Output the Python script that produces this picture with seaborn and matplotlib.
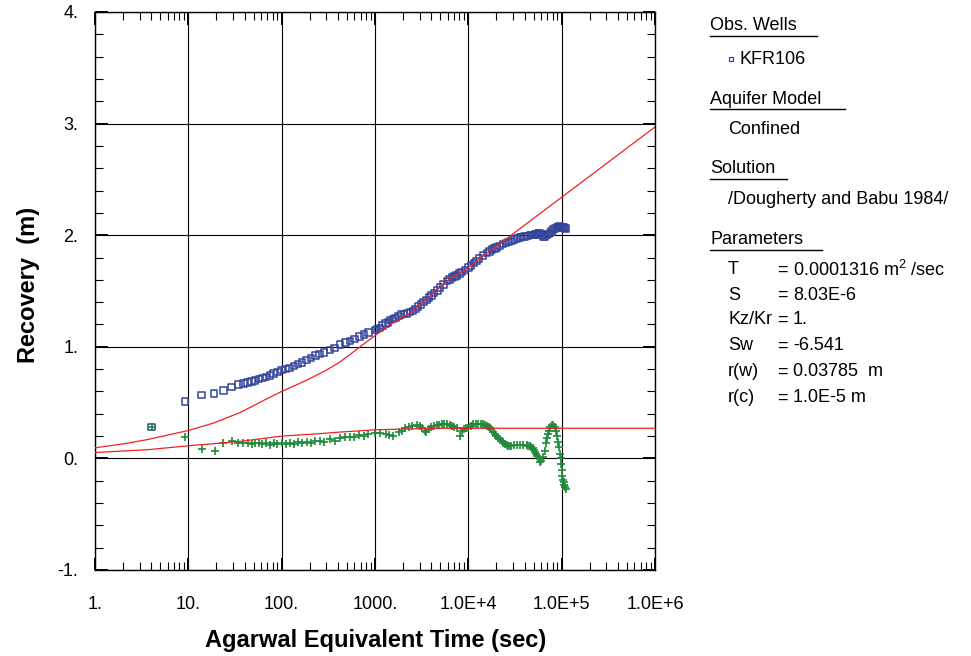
import numpy as np
import pandas as pd
import matplotlib
matplotlib.use("Agg")
import matplotlib.pyplot as plt
import seaborn as sns
from matplotlib.lines import Line2D
from matplotlib.ticker import FixedLocator, MultipleLocator, LogLocator, NullFormatter

# ---------------- data ----------------
obs_time = [4.05, 9.2, 13.9, 18.8, 23.7, 29.1, 34.3, 38.8, 43.3, 47.7,
            52, 57, 62, 68, 75, 82, 90, 100, 110, 122, 135, 150, 165, 185,
            205, 230, 255, 285, 330, 370, 420, 480, 540, 600, 680, 760, 850,
            1000, 1050, 1130, 1200, 1300, 1380, 1450, 1550, 1650, 1780, 1900,
            2050, 2200, 2380, 2560, 2720, 2900, 3100, 3300, 3550, 3800, 4050,
            4300, 4650, 5000, 5400, 5900, 6300, 6700, 7100, 7500, 8000, 8500,
            9200, 10000, 10700, 11500, 12200, 13000, 14300, 15800, 16800,
            18000, 19000, 20000, 21700, 23600, 25200, 27000, 29000, 31000,
            33300, 35600, 37800, 40000, 42800, 45800, 48000, 50000, 52000,
            54000, 56000, 58000, 60500, 63000, 66000, 69000, 72000, 75000,
            78000, 81000, 85000, 89000, 92000, 95000, 97500, 100000, 102500,
            105000, 107500, 110000]
obs_recovery = [0.28, 0.51, 0.57, 0.58, 0.61, 0.64, 0.66, 0.67, 0.68, 0.69,
                0.70, 0.71, 0.72, 0.73, 0.745, 0.76, 0.775, 0.79, 0.80, 0.81,
                0.83, 0.845, 0.86, 0.88, 0.90, 0.92, 0.935, 0.95, 0.97, 0.99,
                1.02, 1.04, 1.05, 1.07, 1.09, 1.11, 1.13,
                1.15, 1.16, 1.17, 1.19, 1.21, 1.22, 1.24, 1.25, 1.26, 1.275,
                1.29, 1.295, 1.30, 1.31, 1.32, 1.34, 1.36, 1.38, 1.40, 1.42,
                1.44, 1.46, 1.48, 1.505, 1.53, 1.56, 1.59, 1.605, 1.62, 1.63,
                1.64, 1.655, 1.67, 1.69, 1.71, 1.73, 1.75, 1.77, 1.79, 1.82,
                1.84, 1.855, 1.87, 1.88, 1.89, 1.905, 1.92, 1.93, 1.94, 1.95,
                1.96, 1.97, 1.98, 1.985, 1.99, 1.995, 2.00, 2.00, 2.00, 2.005,
                2.01, 2.015, 2.02, 2.005, 1.99, 1.99, 2.00, 2.01, 2.02, 2.035,
                2.05, 2.06, 2.07, 2.075, 2.08, 2.075, 2.07, 2.07, 2.07, 2.065,
                2.06]

deriv_time = [4.05, 9.2, 14.1, 19.3, 23.7, 29.1, 34.3, 38.8, 43.3, 47.7, 52,
              57, 62, 68, 75, 82, 90, 100, 110, 122, 135, 150, 165, 185, 205,
              230, 255, 285, 330, 370, 420, 480, 540, 600, 680, 760, 850, 1000,
              1130, 1300, 1400, 1560, 1800, 1950, 2100, 2300, 2500, 2800, 3000,
              3200, 3400, 3550, 3800, 4000, 4300, 4600, 4900, 5200, 5500, 5900,
              6300, 6700, 7100, 7500, 8200, 8600, 9000, 9500, 10000, 10600,
              11300, 12000, 12800, 13700, 14500, 15200, 16000, 16500, 17000,
              17700, 18500, 19200, 20000, 20900, 21800, 22700, 23700, 24700,
              25700, 26700, 27800, 29000, 31000, 33500, 36000, 39000, 42000,
              44000, 46000, 47500, 49000, 50500, 52000, 53500, 55000, 56500,
              58000, 60500, 63000, 65500, 68000, 70000, 72000, 73500, 75000,
              78000, 81000, 84500, 88000, 90000, 92000, 94000, 96000, 97500,
              99000, 100500, 102000, 103500, 105000, 106500, 108000, 110000]
deriv_value = [0.277, 0.196, 0.086, 0.068, 0.137, 0.16, 0.137, 0.137, 0.137,
               0.13, 0.135, 0.14, 0.13, 0.14, 0.12, 0.135, 0.13, 0.137, 0.125,
               0.14, 0.13, 0.145, 0.14, 0.15, 0.14, 0.155, 0.16, 0.15, 0.17,
               0.16, 0.18, 0.19, 0.196, 0.19, 0.21, 0.20, 0.22, 0.227, 0.23,
               0.22, 0.21, 0.20, 0.24, 0.25, 0.27, 0.28, 0.29, 0.30, 0.29,
               0.27, 0.25, 0.24, 0.26, 0.28, 0.29, 0.30, 0.30, 0.31, 0.31,
               0.31, 0.30, 0.29, 0.28, 0.27, 0.20, 0.25, 0.26, 0.27, 0.27,
               0.29, 0.31, 0.31, 0.31, 0.31, 0.31, 0.30, 0.29, 0.28, 0.27,
               0.26, 0.24, 0.22, 0.20, 0.18, 0.17, 0.155, 0.14, 0.13, 0.12,
               0.115, 0.11, 0.115, 0.12, 0.12, 0.12, 0.12, 0.12, 0.115, 0.11,
               0.10, 0.09, 0.075, 0.06, 0.04, 0.02, 0.0, -0.03, -0.02, 0.01,
               0.07, 0.14, 0.18, 0.22, 0.25, 0.28, 0.30, 0.30, 0.28, 0.25,
               0.20, 0.15, 0.10, 0.04, 0.0, -0.05, -0.10, -0.16, -0.19, -0.21,
               -0.24, -0.26, -0.27]

model_time = [1, 2, 3.57, 10, 18.5, 35.7, 66, 100, 185, 300, 422, 600, 800,
              1000, 1450, 2560, 5900, 10000, 15800, 20000, 45800, 100000,
              1000000]
model_recovery = [0.095, 0.13, 0.167, 0.25, 0.316, 0.41, 0.525, 0.60, 0.70,
                  0.79, 0.865, 0.96, 1.04, 1.10, 1.20, 1.32, 1.59, 1.71, 1.84,
                  1.90, 2.127, 2.34, 2.97]

model_d_time = [1, 3.57, 10, 35.7, 100, 240, 422, 1000, 1450, 5000, 1000000]
model_d_value = [0.053, 0.077, 0.113, 0.152, 0.20, 0.22, 0.236, 0.256, 0.26,
                 0.27, 0.27]

x_ticks = [1, 10, 100, 1000, 1e4, 1e5, 1e6]
x_tick_labels = ["1.", "10.", "100.", "1000.", "1.0E+4", "1.0E+5", "1.0E+6"]
y_ticks = [-1, 0, 1, 2, 3, 4]
y_tick_labels = ["-1.", "0.", "1.", "2.", "3.", "4."]

legend_sections = ["Obs. Wells", "Aquifer Model", "Solution", "Parameters"]
param_names = ["T", "S", "Kz/Kr", "Sw", "r(w)", "r(c)"]
param_values = [r"0.0001316 m$^{2}$ /sec", "8.03E-6", "1.", "-6.541",
                "0.03785  m", "1.0E-5 m"]

# ---------------- styling ----------------
FONT = "Liberation Sans"
plt.rcParams["font.family"] = [FONT, "DejaVu Sans"]
plt.rcParams["mathtext.fontset"] = "custom"
plt.rcParams["mathtext.rm"] = FONT
plt.rcParams["mathtext.it"] = FONT
plt.rcParams["mathtext.bf"] = FONT + ":bold"

BLUE = "#34449c"
GREEN = "#1e8a3a"
RED = "#ee2222"

W, H = 971, 656
fig = plt.figure(figsize=(W / 100, H / 100), dpi=100)
ax = fig.add_axes([95 / W, 1 - 570 / H, (655 - 95) / W, (570 - 12) / H])

obs_df = pd.DataFrame({"t": obs_time, "s": obs_recovery})
der_df = pd.DataFrame({"t": deriv_time, "d": deriv_value})
mod_df = pd.DataFrame({"t": model_time, "s": model_recovery})
modd_df = pd.DataFrame({"t": model_d_time, "d": model_d_value})

ax.set_xscale("log")

sns.lineplot(data=mod_df, x="t", y="s", ax=ax, color=RED, lw=0.9,
             estimator=None, sort=False, zorder=4)
sns.lineplot(data=modd_df, x="t", y="d", ax=ax, color=RED, lw=0.9,
             estimator=None, sort=False, zorder=4)
sns.scatterplot(data=obs_df, x="t", y="s", ax=ax, marker="s", s=22,
                facecolor="none", edgecolor=BLUE, linewidth=1.1, zorder=3)
sns.scatterplot(data=der_df, x="t", y="d", ax=ax, marker="+", s=40,
                color=GREEN, linewidth=1.2, zorder=3)

ax.set_xlim(1, 1e6)
ax.set_ylim(-1, 4)
ax.set_xlabel("")
ax.set_ylabel("")

ax.xaxis.set_major_locator(FixedLocator(x_ticks))
ax.set_xticklabels(x_tick_labels)
ax.xaxis.set_minor_locator(LogLocator(base=10, subs=np.arange(2, 10), numticks=20))
ax.xaxis.set_minor_formatter(NullFormatter())
ax.yaxis.set_major_locator(FixedLocator(y_ticks))
ax.set_yticklabels(y_tick_labels)
ax.yaxis.set_minor_locator(MultipleLocator(0.2))

ax.grid(True, which="major", color="black", lw=0.8)
ax.set_axisbelow(True)
ax.tick_params(which="both", direction="in", top=True, right=True,
               colors="black", labelsize=13)
ax.tick_params(which="major", length=9, width=1.4)
ax.tick_params(which="minor", length=6, width=0.8)
ax.tick_params(axis="x", which="major", pad=19)
ax.tick_params(axis="y", which="major", pad=12)
for sp in ax.spines.values():
    sp.set_color("black")
    sp.set_linewidth(1.0)

# axis titles
fig.text(376 / W, 1 - 640 / H, "Agarwal Equivalent Time (sec)", ha="center",
         va="center", fontsize=17, fontweight="bold")
fig.text(28 / W, 1 - 285 / H, "Recovery  (m)", ha="center", va="center",
         rotation=90, fontsize=17, fontweight="bold")

# ---------------- legend / annotation panel ----------------
def fx(px):
    return px / W

def fy(py):
    return 1 - py / H

FS = 13
sec_y = [26, 99, 169, 240]
sec_under = [817, 845, 787, 822]
for txt, yy, xe in zip(legend_sections, sec_y, sec_under):
    fig.text(fx(710), fy(yy), txt, ha="left", va="center", fontsize=FS)
    fig.add_artist(Line2D([fx(710), fx(xe)], [fy(yy + 10), fy(yy + 10)],
                          color="black", lw=1.0, transform=fig.transFigure))

fig.add_artist(Line2D([fx(731)], [fy(59)], marker="s", ms=3.5, mfc="none",
                      mec=BLUE, mew=0.9, ls="none", transform=fig.transFigure))
fig.text(fx(739), fy(59), "KFR106", ha="left", va="center", fontsize=FS)
fig.text(fx(728), fy(129), "Confined", ha="left", va="center", fontsize=FS)
fig.text(fx(728), fy(199), "/Dougherty and Babu 1984/", ha="left",
         va="center", fontsize=FS)

row_y = [270, 295, 320, 346, 372, 398]
for name, val, yy in zip(param_names, param_values, row_y):
    fig.text(fx(728), fy(yy), name, ha="left", va="center", fontsize=FS)
    fig.text(fx(777), fy(yy), "=", ha="left", va="center", fontsize=FS)
    fig.text(fx(793), fy(yy), val, ha="left", va="center", fontsize=FS)

fig.savefig("out.png", dpi=100)
